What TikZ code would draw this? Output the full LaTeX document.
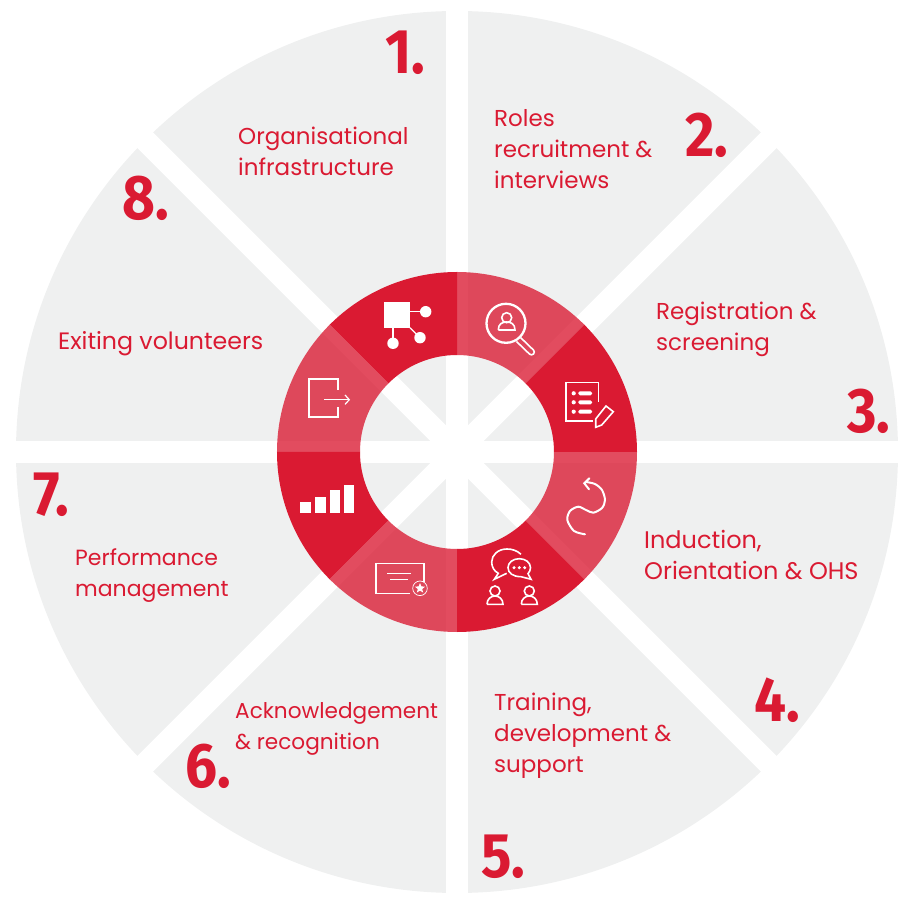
\documentclass[tikz,border=0pt]{standalone}
\usepackage{fontspec}
\usetikzlibrary{shapes.geometric}
\setmainfont{Poppins}
\newfontfamily\numfont[FakeStretch=0.9]{Fira Sans}
\definecolor{ringred}{HTML}{DA1A32}
\definecolor{discgrey}{HTML}{EFF0F0}
\tikzset{
  lbl/.style={anchor=west, align=left, text=ringred, inner sep=0pt, font=\fontsize{#1}{31}\selectfont},
  lbl/.default=23,
  numlbl/.style={text=ringred, inner sep=0pt, font=\fontsize{63}{63}\numfont\bfseries},
  gap/.style={line width=22pt, white},
  ic/.style={white, line width=1.6pt},
  icthin/.style={white, line width=1.2pt},
  icfill/.style={fill=white, draw=none}
}
% reference pixels: x-457, 452-y
\begin{document}
\begin{tikzpicture}[x=1pt, y=1pt]
  \useasboundingbox (-457,-449) rectangle (444,452);
  % grey disc and white gaps
  \fill[discgrey] (0,0) circle (441);
  \draw[gap] (-445,0) -- (445,0);
  \draw[gap] (0,-445) -- (0,445);
  \draw[gap] (135:445) -- (-45:445);
  \draw[gap] (45:445) -- (-135:445);

  % ring segments
  \foreach \a in {135,45,-45,-135}
    \fill[ringred] (\a:180) arc (\a:\a-45:180) -- (\a-45:97) arc (\a-45:\a:97) -- cycle;
  \foreach \a in {180,90,0,-90}
    \fill[ringred, opacity=0.78] (\a:180) arc (\a:\a-45:180) -- (\a-45:97) arc (\a-45:\a:97) -- cycle;

  % icon 1
  \fill[icfill] (-72.7,149.7) rectangle (-47,124.3);
  \fill[icfill] (-31.3,140.3) circle (5.7);
  \fill[icfill] (-37,114.3) circle (5.7);
  \fill[icfill] (-64,108.7) circle (5.7);
  \draw[icthin] (-47,140.3) -- (-31.3,140.3);
  \draw[icthin] (-47,124.3) -- (-37,114.3);
  \draw[icthin] (-64,124.3) -- (-64,108.7);

  % icon 2
  \draw[white, line width=2.3pt] (49,128.7) circle (19.5);
  \draw[ic, rounded corners=2.8pt] (63.5,114.5) -- (78.5,100) -- (74.5,96) -- (59.5,110.5);
  \draw[ic] (49.7,134.3) circle (5);
  \draw[ic] (41.3,122) -- (58,122) .. controls (58,128) and (54,130) .. (49.7,130) .. controls (45,130) and (41.3,128) .. (41.3,122);

  % icon 3
  \draw[ic] (136,31) -- (108.7,31) -- (108.7,69.3) -- (141.3,69.3) -- (141.3,50);
  \foreach \y in {58.7,49.7,40.3} {
    \fill[icfill] (116.7,\y) circle (2.1);
    \fill[icfill, rounded corners=1.5pt] (121.3,\y-2) rectangle (135,\y+2);
  }
  \draw[ic] (149,46) -- (156.3,40.3) -- (144.7,27) -- (138.7,24.7) -- (138.7,33) -- cycle;

  % icon 4
  \draw[ic, line width=2pt, line cap=round] plot[smooth] coordinates {(128,-82.3) (117,-79) (110.3,-68) (113,-59) (121.3,-54.7) (129,-58) (136.3,-60.7) (145,-56) (148,-48) (145,-38) (138,-32) (129,-30)};
  \draw[ic, line width=2pt, line cap=round] (132.3,-26.3) -- (127.3,-31.3) -- (132,-37.3);

  % icon 5
  \draw[ic] (64,-102.3) .. controls (60,-98.5) and (55,-97) .. (50,-97)
    .. controls (41,-97) and (34.7,-103) .. (34.7,-110)
    .. controls (34.7,-115) and (37,-119) .. (41.3,-121.3) -- (37.3,-127.3) -- (49.7,-121.3);
  \draw[ic] (64,-124.7) -- (74,-127.3) -- (71,-121.7)
    .. controls (72.5,-120) and (73.5,-118) .. (73.5,-115.7)
    .. controls (73.5,-110.5) and (68.5,-106.7) .. (62.3,-106.7)
    .. controls (56,-106.7) and (51,-110.5) .. (51,-115.7)
    .. controls (51,-121) and (56,-124.7) .. (64,-124.7);
  \foreach \x in {57,62.3,67.7} \fill[icfill] (\x,-115.7) circle (1.7);
  \foreach \x in {38,72.3}{
    \draw[ic] (\x,-139) circle (5);
    \draw[ic] (\x-8,-152.3) -- (\x+8,-152.3) .. controls (\x+8,-147) and (\x+4,-144) .. (\x,-144) .. controls (\x-4,-144) and (\x-8,-147) .. (\x-8,-152.3);
  }

  % icon 6
  \draw[ic] (-47,-141.3) -- (-81.3,-141.3) -- (-81.3,-111.7) -- (-33.3,-111.7) -- (-33.3,-129.7);
  \draw[icthin] (-69.7,-121.3) -- (-46.3,-121.3);
  \draw[icthin] (-67,-127.7) -- (-49.3,-127.7);
  \draw[white, line width=0.7pt] (-37,-136.3) circle (7.3);
  \node[star, star points=5, star point ratio=2.2, fill=white, inner sep=0pt, minimum size=10.5pt] (certstar) at (-37,-136.3) {};

  % icon 7
  \foreach \x/\w/\y in {-156.7/-146.3/-50.3,-141.7/-131/-44.7,-127.3/-117/-38.3,-113/-102.7/-33}
    \fill[icfill] (\x,\y) rectangle (\w,-61.3);

  % icon 8
  \draw[white, line width=2.3pt] (-119,62) -- (-119,73.3) -- (-147.7,73.3) -- (-147.7,34.7) -- (-119,34.7) -- (-119,45);
  \draw[icthin] (-133,52.3) -- (-107.7,52.3);
  \draw[icthin] (-112,57) -- (-107.7,52.3) -- (-112,47.6);

  % labels
  \node[lbl] (org) at (-219,301) {Organisational\\infrastructure};
  \node[lbl] (roles) at (37,303) {Roles\\recruitment \&\\interviews};
  \node[lbl] (reg) at (199,123) {Registration \&\\screening};
  \node[lbl=24] (ind) at (187,-103) {Induction,\\Orientation \& OHS};
  \node[lbl] (train) at (37,-284) {Training,\\development \&\\support};
  \node[lbl=21.6] (ack) at (-222,-276.5) {Acknowledgement\\\& recognition};
  \node[lbl=22] (perf) at (-382,-123.5) {Performance\\management};
  \node[lbl=23.7] (exit) at (-399,108) {Exiting volunteers};

  % numbers
  \node[numlbl] (n1) at (-52,399) {1.};
  \node[numlbl] (n2) at (250,317) {2.};
  \node[numlbl] (n3) at (412,41) {3.};
  \node[numlbl] (n4) at (320,-248) {4.};
  \node[numlbl] (n5) at (46,-405) {5.};
  \node[numlbl] (n6) at (-249,-314) {6.};
  \node[numlbl] (n7) at (-406,-43) {7.};
  \node[numlbl] (n8) at (-311,254) {8.};
\end{tikzpicture}
\end{document}
